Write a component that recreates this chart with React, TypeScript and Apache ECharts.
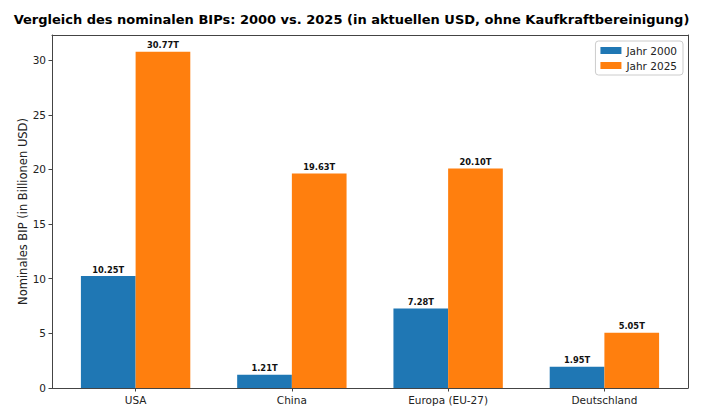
import React, { useEffect, useRef } from "react";
import * as echarts from "echarts";

const categories = ["USA", "China", "Europa (EU-27)", "Deutschland"];
const gdp2000 = [10.25, 1.21, 7.28, 1.95];
const gdp2025 = [30.77, 19.63, 20.1, 5.05];
const yTicks = [0, 5, 10, 15, 20, 25, 30];
const seriesNames = ["Jahr 2000", "Jahr 2025"];

const BAR_W = 0.35;
const FONT = "DejaVu Sans";

function makeRender(offset: number, color: string) {
  return (params: any, api: any) => {
    const xi = api.value(0);
    const v = api.value(1);
    const left = api.coord([xi + offset - BAR_W / 2, v]);
    const base = api.coord([xi + offset + BAR_W / 2, 0]);
    const w = base[0] - left[0];
    const h = base[1] - left[1];
    return {
      type: "group",
      children: [
        {
          type: "rect",
          shape: { x: left[0], y: left[1], width: w, height: h },
          style: { fill: color },
        },
        {
          type: "text",
          style: {
            text: v.toFixed(2) + "T",
            x: left[0] + w / 2,
            y: left[1] - 2.5,
            align: "center",
            verticalAlign: "bottom",
            fontFamily: FONT,
            fontWeight: "bold",
            fontSize: 8.3,
            fill: "#111",
          },
        },
      ],
    };
  };
}

export default function App() {
  const ref = useRef<HTMLDivElement>(null);
  useEffect(() => {
    document.body.style.margin = "0";
    if (!ref.current) return;
    const chart = echarts.init(ref.current, null, { renderer: "svg" });
    const frame = "#444";
    const txt = "#222";
    chart.setOption({
      animation: false,
      backgroundColor: "#fff",
      textStyle: { fontFamily: FONT },
      title: {
        text: "Vergleich des nominalen BIPs: 2000 vs. 2025 (in aktuellen USD, ohne Kaufkraftbereinigung)",
        left: "center",
        top: 8,
        textStyle: { fontFamily: FONT, fontWeight: "bold", fontSize: 13, color: "#000" },
      },
      legend: {
        data: seriesNames,
        orient: "vertical",
        right: 20,
        top: 41,
        itemWidth: 21,
        itemHeight: 7,
        itemGap: 4,
        icon: "rect",
        padding: [4, 6, 4, 5],
        borderColor: "#ccc",
        borderWidth: 1,
        borderRadius: 3,
        backgroundColor: "rgba(255,255,255,0.8)",
        textStyle: { fontFamily: FONT, fontSize: 10.5, color: txt },
      },
      grid: { left: 52, right: 15, top: 35, bottom: 31 },
      xAxis: [
        {
          type: "value",
          min: -0.535,
          max: 3.535,
          splitLine: { show: false },
          axisLine: { show: true, onZero: false, lineStyle: { color: frame, width: 1 } },
          axisTick: { show: true, length: 3.5, customValues: [0, 1, 2, 3], lineStyle: { color: frame } },
          axisLabel: {
            customValues: [0, 1, 2, 3],
            formatter: (v: number) => categories[Math.round(v)],
            fontFamily: FONT,
            fontSize: 10.5,
            color: txt,
            margin: 6,
          },
        },
        {
          type: "value",
          position: "top",
          min: -0.535,
          max: 3.535,
          splitLine: { show: false },
          axisLine: { show: true, onZero: false, lineStyle: { color: frame, width: 1 } },
          axisTick: { show: false },
          axisLabel: { show: false },
        },
      ],
      yAxis: [
        {
          type: "value",
          min: 0,
          max: 32.3085,
          name: "Nominales BIP (in Billionen USD)",
          nameLocation: "middle",
          nameGap: 23,
          nameMoveOverlap: false,
          nameRotate: 90,
          nameTextStyle: { fontFamily: FONT, fontSize: 11.5, color: txt },
          splitLine: { show: false },
          axisLine: { show: true, onZero: false, lineStyle: { color: frame, width: 1 } },
          axisTick: { show: true, length: 3.5, customValues: yTicks, lineStyle: { color: frame } },
          axisLabel: {
            customValues: yTicks,
            fontFamily: FONT,
            fontSize: 10.5,
            color: txt,
            margin: 6,
          },
        },
        {
          type: "value",
          position: "right",
          min: 0,
          max: 32.3085,
          splitLine: { show: false },
          axisLine: { show: true, onZero: false, lineStyle: { color: frame, width: 1 } },
          axisTick: { show: false },
          axisLabel: { show: false },
        },
      ],
      series: [
        {
          name: seriesNames[0],
          type: "custom",
          xAxisIndex: 0,
          yAxisIndex: 0,
          itemStyle: { color: "#1f77b4" },
          renderItem: makeRender(-BAR_W / 2, "#1f77b4"),
          encode: { x: 0, y: 1 },
          data: gdp2000.map((v, i) => [i, v]),
        },
        {
          name: seriesNames[1],
          type: "custom",
          xAxisIndex: 0,
          yAxisIndex: 0,
          itemStyle: { color: "#ff7f0e" },
          renderItem: makeRender(BAR_W / 2, "#ff7f0e"),
          encode: { x: 0, y: 1 },
          data: gdp2025.map((v, i) => [i, v]),
        },
      ],
    });
    return () => chart.dispose();
  }, []);
  return <div ref={ref} style={{ width: 703, height: 419 }} />;
}
